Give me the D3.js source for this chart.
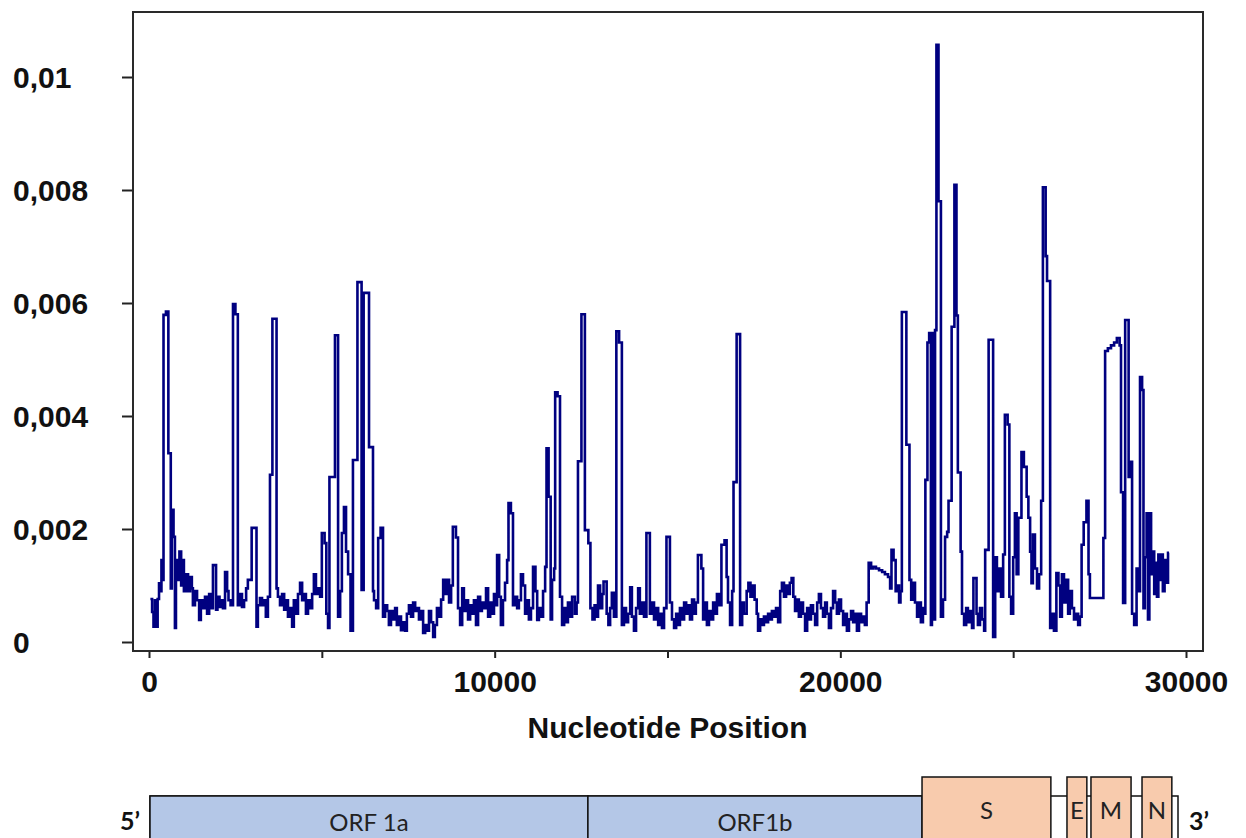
<!DOCTYPE html>
<html>
<head>
<meta charset="utf-8">
<script src="https://cdn.jsdelivr.net/npm/d3@7"></script>
<style>
  html, body { margin: 0; padding: 0; background: #fff; }
  svg { display: block; }
  .axis text { font-family: "Liberation Sans", Arial, sans-serif; font-weight: bold; font-size: 30px; fill: #111; }
  .axis line { stroke: #222; stroke-width: 2; }
  .axis-title { font-family: "Liberation Sans", Arial, sans-serif; font-weight: bold; font-size: 30px; fill: #111; }
  .gene-label { font-family: Lato, "Open Sans", sans-serif; font-size: 24px; fill: #222; }
  .end-label { font-family: Lato, "Open Sans", sans-serif; font-weight: bold; font-size: 25px; fill: #111; }
</style>
</head>
<body>
<svg id="chart" width="1246" height="838"></svg>
<script>
// sliding window values along the genome: [nucleotide position, value x 10^-3]
var divergence = [
  [40,0.76],[90,0.53],[130,0.27],[170,0.74],[220,0.27],[250,0.76],[290,1.04],[330,0.9],[360,1.45],[410,1.1],
  [420,5.79],[490,5.85],[560,3.34],[630,0.95],[660,2.34],[710,1.86],[750,0.25],[780,1.45],[840,1.1],[880,1.6],
  [930,1.0],[970,1.45],[1010,0.9],[1070,1.2],[1130,0.9],[1190,1.15],[1240,0.95],[1270,0.65],[1330,0.9],[1390,0.74],
  [1450,0.39],[1500,0.74],[1560,0.6],[1620,0.8],[1680,0.5],[1740,0.85],[1790,0.6],[1850,1.36],[1940,0.57],[1980,0.8],
  [2040,0.62],[2080,0.74],[2140,0.6],[2200,1.24],[2260,0.9],[2300,0.74],[2360,0.65],[2430,5.98],[2500,5.8],[2570,0.65],
  [2630,0.85],[2690,0.62],[2750,0.74],[2810,0.95],[2860,1.1],[2970,2.02],[3110,0.27],[3150,0.65],[3210,0.78],
  [3270,0.65],[3330,0.74],[3380,0.45],[3440,0.8],[3500,2.96],[3570,5.72],[3690,0.95],[3730,0.8],[3790,0.65],[3850,0.85],
  [3910,0.57],[3960,0.74],[4020,0.45],[4080,0.6],[4140,0.27],[4190,0.74],[4250,0.5],[4310,0.85],[4370,1.05],[4430,0.74],
  [4480,0.85],[4540,0.5],[4600,0.74],[4660,0.6],[4720,0.85],[4770,1.2],[4830,0.85],[4890,0.95],[4950,0.8],[5000,1.93],
  [5080,1.75],[5130,0.5],[5180,0.25],[5220,2.92],[5380,5.43],[5470,0.45],[5530,0.9],[5580,1.93],[5640,2.39],[5700,1.6],
  [5760,1.2],[5830,0.2],[5900,3.22],[6030,6.37],[6150,0.92],[6210,6.18],[6365,3.45],[6480,0.9],[6510,0.74],[6570,0.6],
  [6630,1.84],[6700,2.02],[6770,0.45],
  [6830,0.65],[6890,0.55],[6940,0.3],[7000,0.55],[7060,0.4],[7120,0.6],[7170,0.3],[7230,0.45],[7290,0.21],[7350,0.35],
  [7410,0.2],[7460,0.5],[7520,0.65],[7580,0.45],[7640,0.7],[7700,0.55],[7750,0.6],[7810,0.4],[7870,0.55],[7930,0.16],
  [7990,0.3],[8040,0.2],[8100,0.55],[8160,0.35],[8220,0.09],[8270,0.3],[8330,0.6],[8390,0.45],[8450,0.75],[8510,1.1],
  [8560,0.85],[8620,1.1],[8680,0.7],[8740,1.0],[8790,2.04],[8880,1.85],[8940,0.6],[9000,0.3],[9060,0.95],[9110,0.55],
  [9170,0.74],[9230,0.4],[9290,0.65],[9340,0.5],[9400,0.74],[9460,0.3],[9520,0.8],[9580,0.55],[9630,0.7],[9690,0.6],
  [9750,0.95],[9810,0.45],[9870,0.7],[9920,0.5],[9980,0.85],[10040,0.65],[10070,1.54],[10130,0.8],[10180,0.3],[10240,0.74],
  [10300,1.05],[10360,1.45],[10400,2.46],[10470,2.28],[10530,0.65],[10590,0.8],[10650,0.6],[10700,0.74],[10760,1.2],[10820,1.0],
  [10880,0.5],[10940,0.74],[10990,0.4],[11050,0.6],[11110,1.33],[11180,0.9],[11230,0.39],[11280,0.6],[11340,0.45],[11400,0.9],
  [11460,1.33],[11500,3.43],[11560,2.57],[11620,0.4],[11660,1.1],[11720,1.3],[11750,4.42],[11820,4.35],[11890,0.8],
  [11950,0.3],[12010,0.6],[12060,0.35],[12120,0.7],[12180,0.45],[12240,0.8],[12320,0.5],[12370,0.7],[12410,3.2],[12510,5.8],
  [12610,1.98],[12710,1.75],[12770,0.6],[12830,0.4],[12890,0.65],[12950,0.45],[12990,1.0],[13050,0.6],[13110,0.85],[13150,1.07],
  [13240,0.5],[13290,0.3],[13340,0.6],[13390,0.87],[13450,0.45],[13520,5.5],[13600,5.3],[13680,0.3],[13740,0.6],[13800,0.35],
  [13860,0.5],[13920,0.97],[13970,0.45],[14030,0.2],[14090,0.6],[14150,0.95],[14200,0.5],[14260,0.7],[14320,0.45],[14390,1.93],
  [14490,0.5],[14550,0.7],[14610,0.4],[14680,0.6],[14730,0.3],[14780,0.5],[14840,0.25],[14900,0.6],[14970,1.86],[15070,0.7],
  [15130,0.4],[15190,0.25],[15250,0.5],[15300,0.3],[15360,0.6],[15420,0.4],[15480,0.7],[15540,0.5],[15590,0.65],[15650,0.4],
  [15710,0.75],[15770,0.5],[15820,0.7],[15880,1.54],[15980,1.3],[16030,0.4],[16090,0.7],[16140,0.3],[16200,0.55],[16260,0.4],
  [16320,0.7],[16370,0.5],[16430,0.85],[16490,0.65],[16560,1.72],[16650,1.8],[16710,1.15],[16750,0.7],[16810,0.3],[16870,0.9],
  [16910,2.83],[17000,5.45],[17100,0.3],
  [17160,0.7],[17210,0.5],[17290,0.9],[17340,1.05],[17400,0.8],[17460,1.0],[17520,0.75],[17580,0.5],[17620,0.2],[17680,0.4],
  [17730,0.3],[17790,0.45],[17850,0.35],[17910,0.5],[17970,0.4],[18020,0.55],[18080,0.45],[18140,0.6],[18200,0.35],[18260,0.9],
  [18310,1.05],[18370,0.8],[18430,1.0],[18490,0.85],[18540,1.05],[18590,1.13],[18640,0.8],[18690,0.55],[18750,0.75],[18800,0.45],
  [18860,0.7],[18920,0.5],[18980,0.2],[19040,0.6],[19090,0.4],[19150,0.65],[19210,0.5],[19270,0.3],[19330,0.7],[19380,0.85],
  [19440,0.6],[19500,0.45],[19560,0.7],[19610,0.5],[19670,0.25],[19730,0.6],[19790,0.9],[19850,0.7],[19900,0.5],[19960,0.75],
  [20020,0.55],[20080,0.3],[20140,0.5],[20190,0.2],[20250,0.4],[20310,0.55],[20370,0.35],[20420,0.5],[20480,0.2],[20540,0.5],
  [20600,0.35],[20660,0.45],[20710,0.3],[20760,0.7],[20820,1.4],[20890,1.3],
  [20950,1.33],[21030,1.3],[21120,1.27],[21210,1.24],[21290,1.2],[21380,1.15],[21440,0.95],[21480,1.63],[21540,1.45],[21600,0.9],
  [21640,1.0],[21700,0.7],[21740,0.9],[21780,5.84],[21910,3.49],[22000,1.1],[22050,0.75],[22100,1.05],[22160,0.7],[22220,0.45],
  [22280,0.7],[22330,0.35],[22390,0.6],[22440,0.5],[22460,2.87],[22520,5.3],[22570,5.47],[22620,0.3],[22650,5.47],[22710,0.4],
  [22740,5.52],[22780,10.57],[22840,7.8],[22910,0.45],[22970,0.75],[23030,1.86],[23090,1.95],[23130,2.5],[23220,5.58],[23300,8.09],
  [23360,5.78],[23400,3.0],[23480,1.6],[23520,0.5],[23580,0.3],[23640,0.6],[23690,0.35],[23750,0.55],[23810,0.25],[23850,1.13],
  [23940,0.5],[23980,0.3],[24040,0.6],[24100,0.4],[24160,0.2],[24190,1.63],[24290,5.35],[24420,0.09],[24480,1.5],[24530,0.9],
  [24590,1.3],[24650,0.8],[24710,1.55],[24760,4.02],[24840,3.85],[24890,0.8],[24940,0.5],
  [25000,1.5],[25050,2.28],[25100,1.2],[25150,2.2],[25240,3.36],[25310,3.1],[25390,2.57],[25440,2.2],[25490,1.6],[25530,1.04],
  [25570,1.9],[25630,1.3],[25690,0.95],[25750,1.2],[25810,2.5],[25860,8.05],[25940,6.83],[25980,6.39],[26070,0.25],[26120,0.5],
  [26180,0.2],[26250,1.22],[26310,1.0],[26360,0.45],[26410,1.2],[26470,0.7],[26530,1.1],[26590,0.5],[26640,0.9],[26700,0.6],
  [26760,0.4],[26820,0.5],[26880,0.3],[26930,0.45],[26980,1.72],[27040,2.12],[27120,2.5],[27180,1.2],[27220,0.78],
  [27610,1.84],[27660,5.15],[27740,5.2],[27830,5.25],[27920,5.3],[28000,5.38],[28080,5.25],[28120,2.65],[28180,0.69],[28240,5.7],
  [28340,2.92],[28400,3.19],[28440,0.5],[28500,0.3],[28570,1.3],[28640,0.9],[28670,4.69],[28730,4.46],[28770,0.6],[28810,1.5],
  [28860,2.28],[28900,0.4],[28940,2.28],[28990,1.2],[29030,1.6],[29080,0.85],[29120,1.4],[29160,0.8],[29200,1.55],[29250,1.1],
  [29290,1.55],[29330,0.9],[29380,1.45],[29420,1.05],[29480,1.58],[29510,1.58]
];

var xTicks = [0, 5000, 10000, 15000, 20000, 25000, 30000];
var xTickLabels = ["0", "", "10000", "", "20000", "", "30000"];
var yTicks = [0, 2, 4, 6, 8, 10];
var yTickLabels = ["0", "0,002", "0,004", "0,006", "0,008", "0,01"];

// genome sketch under the plot (schematic positions, not to scale)
var geneNames = ["ORF 1a", "ORF1b", "S", "E", "M", "N"];
var geneStart = [0, 12780, 22530, 26760, 27460, 28950];
var geneEnd = [12780, 22530, 26290, 27340, 28630, 29820];
var geneRaised = [false, false, true, true, true, true];
var genomeEnd = 30000;

var svg = d3.select("svg#chart");

var x = d3.scaleLinear().domain([0, 30000]).range([149, 1186]),
    y = d3.scaleLinear().domain([0, 10]).range([642, 77]);

var frame = {left: 133, top: 12, right: 1203, bottom: 651};

// y axis, labels pushed to the left edge
var yAxis = svg.append("g")
    .attr("class", "axis")
    .attr("transform", "translate(" + frame.left + ",0)")
    .call(d3.axisLeft(y).tickValues(yTicks).tickSize(11).tickFormat(function(d, i) { return yTickLabels[i]; }));
yAxis.select(".domain").remove();
yAxis.selectAll("text")
    .attr("x", 13 - frame.left)
    .attr("dy", "0.35em")
    .attr("text-anchor", "start");

var xAxis = svg.append("g")
    .attr("class", "axis")
    .attr("transform", "translate(0," + frame.bottom + ")")
    .call(d3.axisBottom(x).tickValues(xTicks).tickSize(7).tickFormat(function(d, i) { return xTickLabels[i]; }));
xAxis.select(".domain").remove();
xAxis.selectAll("text").attr("y", 41).attr("dy", 0);

svg.append("text")
    .attr("class", "axis-title")
    .attr("x", (x(0) + x(30000)) / 2)
    .attr("y", 738)
    .attr("text-anchor", "middle")
    .text("Nucleotide Position");

var line = d3.line()
    .x(function(d) { return x(d[0]); })
    .y(function(d) { return y(d[1]); })
    .curve(d3.curveStepAfter);

svg.append("path")
    .datum(divergence)
    .attr("fill", "none")
    .attr("stroke", "#000080")
    .attr("stroke-width", 2.6)
    .attr("d", line);

svg.append("rect")
    .attr("x", frame.left)
    .attr("y", frame.top)
    .attr("width", frame.right - frame.left)
    .attr("height", frame.bottom - frame.top)
    .attr("fill", "none")
    .attr("stroke", "#2a2a2a")
    .attr("stroke-width", 2);

// genome map
var gx = d3.scaleLinear().domain([0, genomeEnd]).range([150, 1178]);
var barTop = 796, raisedTop = 777, barBottom = 860;

var genome = svg.append("g");

genome.append("rect")
    .attr("x", gx(0)).attr("y", barTop)
    .attr("width", gx(genomeEnd) - gx(0)).attr("height", barBottom - barTop)
    .attr("fill", "#fff").attr("stroke", "#111").attr("stroke-width", 1.5);

var genes = geneNames.map(function(name, i) {
  return {name: name, start: geneStart[i], end: geneEnd[i], raised: geneRaised[i]};
});

genome.selectAll(".gene")
    .data(genes)
  .enter().append("rect")
    .attr("class", "gene")
    .attr("x", function(d) { return gx(d.start); })
    .attr("y", function(d) { return d.raised ? raisedTop : barTop; })
    .attr("width", function(d) { return gx(d.end) - gx(d.start); })
    .attr("height", function(d) { return barBottom - (d.raised ? raisedTop : barTop); })
    .attr("fill", function(d) { return d.raised ? "#f8cbad" : "#b4c7e7"; })
    .attr("stroke", "#111")
    .attr("stroke-width", 1.5);

genome.selectAll(".gene-label")
    .data(genes)
  .enter().append("text")
    .attr("class", "gene-label")
    .attr("x", function(d) { return (gx(d.start) + gx(d.end)) / 2; })
    .attr("y", function(d) { return d.raised ? 819 : 831; })
    .attr("text-anchor", "middle")
    .text(function(d) { return d.name; });

genome.append("text").attr("class", "end-label")
    .attr("x", 140).attr("y", 830).attr("text-anchor", "end").text("5\u2019");
genome.append("text").attr("class", "end-label")
    .attr("x", 1189).attr("y", 830).text("3\u2019");
</script>
</body>
</html>
